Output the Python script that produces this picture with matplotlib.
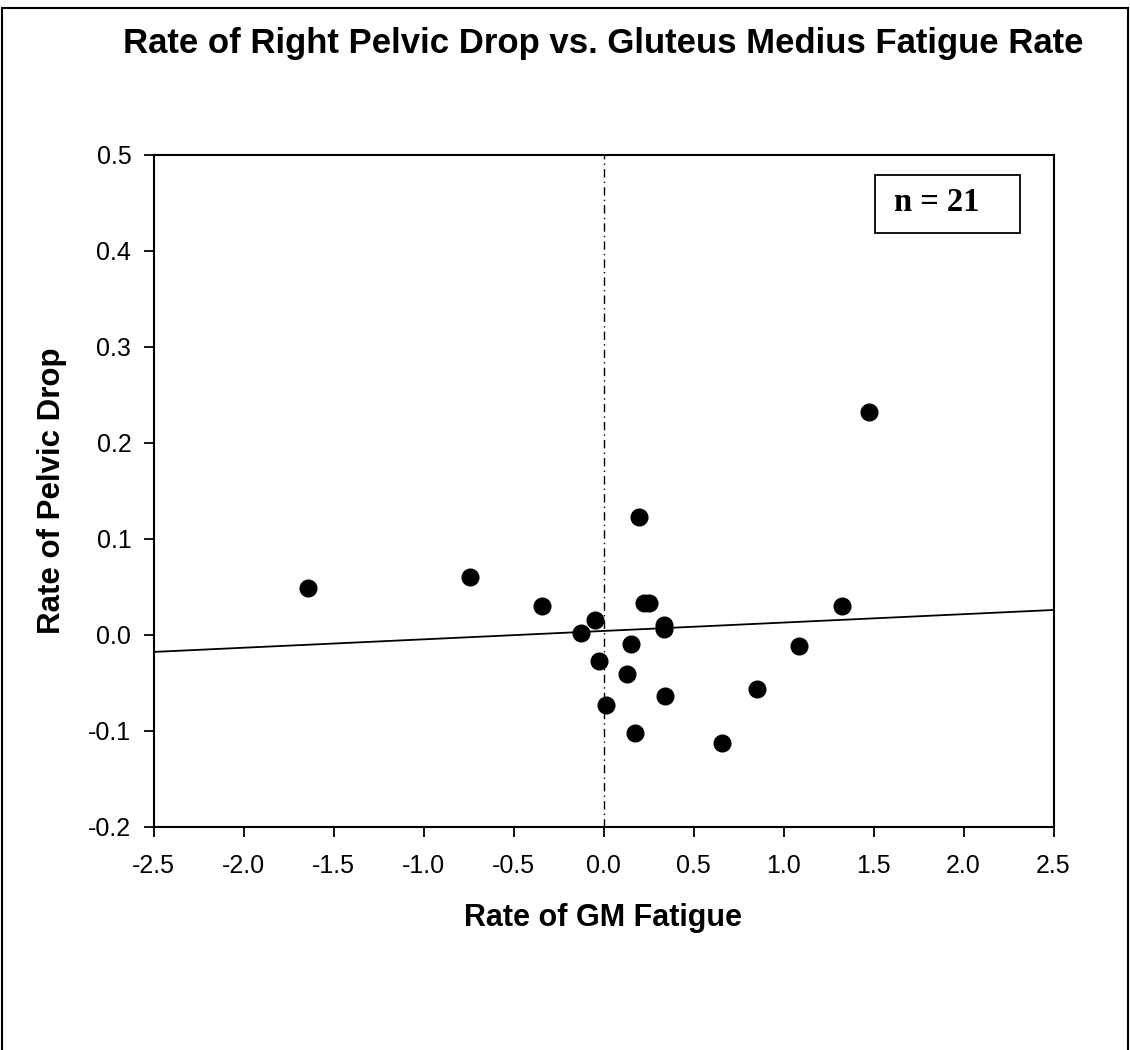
import matplotlib
matplotlib.use("Agg")
import matplotlib.pyplot as plt
from matplotlib.patches import Rectangle

# ---- data ----
gm_fatigue = [-1.643, -0.742, -0.343, 0.197, 0.225, 0.250, -0.047, -0.127,
              0.338, 0.338, 0.153, -0.023, 0.131, 0.343, 0.014, 0.173,
              1.086, 0.853, 0.660, 1.323, 1.475]
pelvic_drop = [0.0483, 0.0604, 0.0302, 0.1230, 0.0333, 0.0333, 0.0153, 0.0021,
               0.0105, 0.0055, -0.0094, -0.0270, -0.0406, -0.0635, -0.0736, -0.1024,
               -0.0118, -0.0569, -0.1131, 0.0299, 0.2317]
fit_slope = 0.00874
fit_intercept = 0.0039
x_ticks = [-2.5, -2.0, -1.5, -1.0, -0.5, 0.0, 0.5, 1.0, 1.5, 2.0, 2.5]
y_ticks = [-0.2, -0.1, 0.0, 0.1, 0.2, 0.3, 0.4, 0.5]
title = "Rate of Right Pelvic Drop vs. Gluteus Medius Fatigue Rate"
xlabel = "Rate of GM Fatigue"
ylabel = "Rate of Pelvic Drop"
n_label = "n = 21"

plt.rcParams['font.family'] = ['Liberation Sans', 'DejaVu Sans']

W, H = 1130, 1050
fig = plt.figure(figsize=(W / 100, H / 100), dpi=100)
fig.patch.set_facecolor('white')

# figure border (bottom cropped)
fig.patches.append(Rectangle((2 / W, -0.02), 1 - 4 / W, 1 - 8 / H + 0.02,
                             transform=fig.transFigure, fill=False,
                             edgecolor='black', linewidth=1.5))

ax = fig.add_axes([153.5 / W, 1 - 826.7 / H, 900 / W, 672 / H])
ax.set_xlim(-2.5, 2.5)
ax.set_ylim(-0.2, 0.5)

# vertical reference line at x=0
ax.axvline(0.0, color='black', linestyle=(0, (6, 3, 1, 3)), linewidth=1.0)

# regression line
xl = [-2.5, 2.5]
ax.plot(xl, [fit_intercept + fit_slope * v for v in xl], color='black', linewidth=1.3)

ax.plot(gm_fatigue, pelvic_drop, linestyle='none', marker='o', markersize=12,
        markerfacecolor='black', markeredgecolor='black', clip_on=False)

ax.set_xticks(x_ticks)
ax.set_xticklabels([f"{v:.1f}" for v in x_ticks])
ax.set_yticks(y_ticks)
ax.set_yticklabels([f"{v:.1f}" for v in y_ticks])
ax.tick_params(direction='out', length=7, width=1.3, labelsize=18, pad=9,
               colors='black')
ax.tick_params(axis='x', pad=13)
for s in ax.spines.values():
    s.set_linewidth(1.5)
    s.set_color('black')

# n label box
ax.add_patch(Rectangle((0.8017, 0.8835), 0.1613, 0.0865, transform=ax.transAxes,
                       fill=False, edgecolor='black', linewidth=1.3))
ax.text(0.870, 0.929, n_label, transform=ax.transAxes, ha='center', va='center',
        fontsize=23.5, fontweight='bold', family=['Liberation Serif', 'DejaVu Serif'])

fig.text(603 / W, 1 - 43 / H, title, ha='center', va='center',
         fontsize=25, fontweight='bold')
fig.text(603 / W, 1 - 918 / H, xlabel, ha='center', va='center',
         fontsize=22, fontweight='bold')
fig.text(52 / W, 1 - 491 / H, ylabel, ha='center', va='center',
         fontsize=22.5, fontweight='bold', rotation=90)

fig.savefig("out.png", dpi=100)
